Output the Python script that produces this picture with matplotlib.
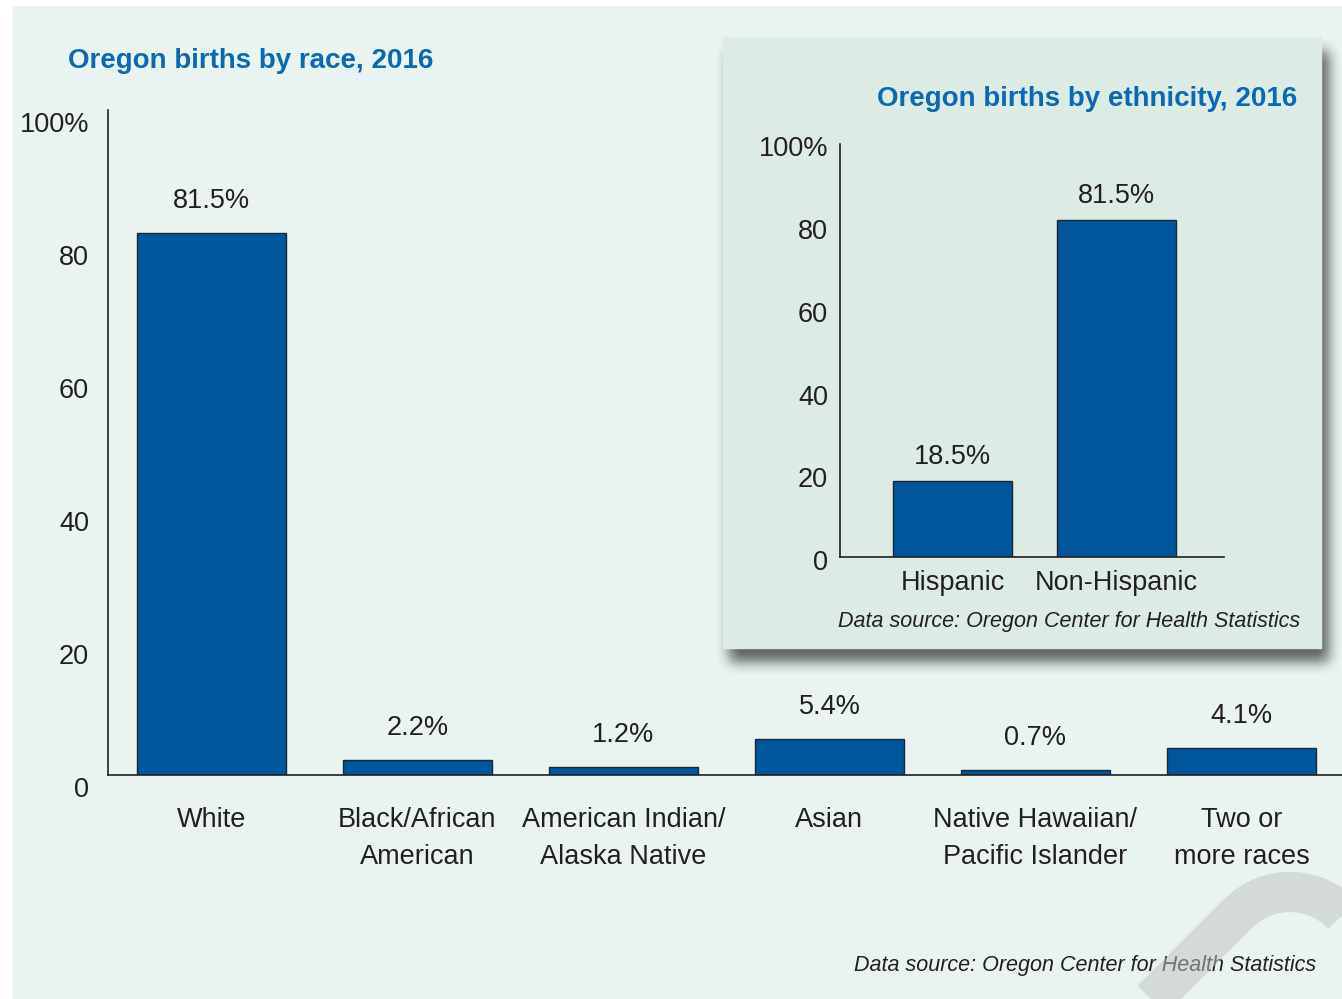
import numpy as np
import matplotlib.pyplot as plt
from matplotlib.transforms import ScaledTranslation
from matplotlib.patches import Rectangle

race_labels = ['White', 'Black/African\nAmerican', 'American Indian/\nAlaska Native',
               'Asian', 'Native Hawaiian/\nPacific Islander', 'Two or\nmore races']
race_values = [81.5, 2.2, 1.2, 5.4, 0.7, 4.1]
eth_labels = ['Hispanic', 'Non-Hispanic']
eth_values = [18.5, 81.5]
y_ticks = [0, 20, 40, 60, 80, 100]
y_tick_labels = ['0', '20', '40', '60', '80', '100%']

plt.rcParams['font.family'] = ['Liberation Sans', 'DejaVu Sans']
dark = '#231f20'
blue = '#0b68b1'
bar_c = '#00569b'
fs = 19.5

W, H = 1342, 999
fig = plt.figure(figsize=(W / 100, H / 100), dpi=100, facecolor='white')

# background, panel and its shadow, in pixel coords
bg = fig.add_axes([0, 0, 1, 1])
bg.set_xlim(0, W)
bg.set_ylim(H, 0)
bg.axis('off')
bg.add_patch(Rectangle((13, 6), W, H, color='#e9f4f0', zorder=0))

sh = np.zeros((H, W))
sh[37 + 14:648 + 14, 723 + 6:1321 + 8] = 1.0
k = np.ones(15) / 15
for _ in range(2):
    sh = np.apply_along_axis(lambda r: np.convolve(r, k, mode='same'), 1, sh)
    sh = np.apply_along_axis(lambda c: np.convolve(c, k, mode='same'), 0, sh)
rgba = np.zeros((H, W, 4))
rgba[..., 3] = sh * 0.6
bg.imshow(rgba, extent=(0, W, H, 0), zorder=1, interpolation='bilinear')
bg.add_patch(Rectangle((723, 37), 598, 611, color='#dcece4', zorder=2))
bg.set_xlim(0, W)
bg.set_ylim(H, 0)

# main chart
ax = fig.add_axes([108 / W, 1 - 775 / H, 1 - 108 / W, (775 - 110) / H])
ax.patch.set_alpha(0)
x = np.arange(len(race_values))
ax.bar(x, race_values, width=0.723, color=bar_c, edgecolor='#1b2838', linewidth=1)
for xi, v in zip(x, race_values):
    ax.annotate(f'{v}%', (xi, v), xytext=(0, 23), textcoords='offset points',
                ha='center', va='center', fontsize=fs, color=dark)
ax.set_xlim(-0.502, 5.488)
ax.set_ylim(0, 100)
ax.set_yticks(y_ticks, y_tick_labels)
ax.set_xticks(x, race_labels)
ax.tick_params(length=0, labelsize=fs, labelcolor=dark)
ax.tick_params(axis='y', pad=13.5)
ax.tick_params(axis='x', pad=23)
for lab in ax.get_xticklabels():
    lab.set_linespacing(1.55)
for lab in ax.get_yticklabels():
    lab.set_transform(lab.get_transform() + ScaledTranslation(0, -0.12, fig.dpi_scale_trans))
for s in ['top', 'right']:
    ax.spines[s].set_visible(False)
for s in ['left', 'bottom']:
    ax.spines[s].set_color(dark)
    ax.spines[s].set_linewidth(1.2)

# inset chart
ax2 = fig.add_axes([840 / W, 1 - 557 / H, (1224 - 840) / W, (557 - 143.5) / H])
ax2.patch.set_alpha(0)
x2 = np.arange(len(eth_values))
ax2.bar(x2, eth_values, width=0.726, color=bar_c, edgecolor='#1b2838', linewidth=1)
for xi, v in zip(x2, eth_values):
    ax2.annotate(f'{v}%', (xi, v), xytext=(0, 17), textcoords='offset points',
                 ha='center', va='center', fontsize=fs, color=dark)
ax2.set_xlim(-0.686, 1.655)
ax2.set_ylim(0, 100)
ax2.set_yticks(y_ticks, y_tick_labels)
ax2.set_xticks(x2, eth_labels)
ax2.tick_params(length=0, labelsize=fs, labelcolor=dark)
ax2.tick_params(axis='y', pad=8.5)
ax2.tick_params(axis='x', pad=9)
for lab in ax2.get_yticklabels():
    lab.set_transform(lab.get_transform() + ScaledTranslation(0, -0.03, fig.dpi_scale_trans))
for s in ['top', 'right']:
    ax2.spines[s].set_visible(False)
for s in ['left', 'bottom']:
    ax2.spines[s].set_color(dark)
    ax2.spines[s].set_linewidth(1.2)

# titles and sources
bg.text(68, 61, 'Oregon births by race, 2016', fontsize=20, fontweight='bold',
        color=blue, ha='left', va='center', zorder=5)
bg.text(1297, 99, 'Oregon births by ethnicity, 2016', fontsize=20, fontweight='bold',
        color=blue, ha='right', va='center', zorder=5)
bg.text(1300, 622, 'Data source: Oregon Center for Health Statistics', fontsize=15.5,
        style='italic', color=dark, ha='right', va='center', zorder=5)

# decorative arc, drawn over the bottom source line
over = fig.add_axes([0, 0, 1, 1], zorder=10)
over.set_xlim(0, W)
over.set_ylim(H, 0)
over.axis('off')
fig.text(1316 / W, 1 - 966 / H, 'Data source: Oregon Center for Health Statistics',
         fontsize=15.5, style='italic', color=dark, ha='right', va='center', zorder=5)
cx, cy, r = 1290, 965, 73
t = np.linspace(np.pi * 1.25, np.pi * 2, 80)
arc_x = cx + r * np.cos(t)
arc_y = cy + r * np.sin(t)
px = np.concatenate([[arc_x[0] - 200], arc_x, [arc_x[-1]]])
py = np.concatenate([[arc_y[0] + 200], arc_y, [arc_y[-1] + 200]])
over.plot(px, py, color='#bfc3c3', alpha=0.52, lw=29, solid_capstyle='butt',
          solid_joinstyle='round')

fig.savefig('out.png', dpi=100, facecolor='white')
